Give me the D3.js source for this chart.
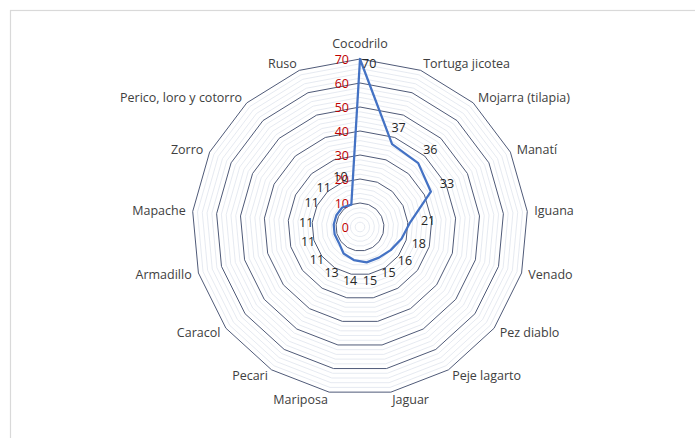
<!DOCTYPE html>
<html>
<head>
<meta charset="utf-8">
<script src="https://cdn.jsdelivr.net/npm/d3@7"></script>
<style>
  html, body { margin: 0; padding: 0; background: #fff; }
  svg { display: block; font-family: "Open Sans", "Liberation Sans", sans-serif; }
</style>
</head>
<body>
<div id="chart"></div>
<script>
// ------------------------------
// Data
// ------------------------------

const categories = [
  "Cocodrilo", "Tortuga jicotea", "Mojarra (tilapia)", "Manatí", "Iguana",
  "Venado", "Pez diablo", "Peje lagarto", "Jaguar", "Mariposa", "Pecari",
  "Caracol", "Armadillo", "Mapache", "Zorro", "Perico, loro y cotorro", "Ruso"
];
const values = [70, 37, 36, 33, 21, 18, 16, 15, 15, 14, 13, 11, 11, 11, 11, 11, 10];
const axisTicks = [0, 10, 20, 30, 40, 50, 60, 70];
const minorStep = 2;

// ------------------------------
// Layout
// ------------------------------

const width = 695;
const height = 438;
const cx = 360;
const cy = 227;
const maxRadius = 168;

const svg = d3.select("#chart").append("svg")
  .attr("width", width)
  .attr("height", height);

// Chart area border (runs off the right and bottom of the picture)
svg.append("rect")
  .attr("x", 10.5).attr("y", 10.5)
  .attr("width", width + 20).attr("height", height + 20)
  .attr("fill", "none")
  .attr("stroke", "#d9d9d9")
  .attr("stroke-width", 1.2);

const g = svg.append("g").attr("transform", `translate(${cx},${cy})`);

// Radial value scale and angle scale
const r = d3.scaleLinear().domain([0, d3.max(axisTicks)]).range([0, maxRadius]);
const angle = d3.scaleLinear().domain([0, categories.length]).range([0, 2 * Math.PI]);

const ring = (v) => d3.lineRadial()
  .angle((d, i) => angle(i))
  .radius(() => r(v))
  .curve(d3.curveLinearClosed)(categories);

// Minor gridlines
const minorTicks = d3.range(0, d3.max(axisTicks) + 0.001, minorStep)
  .filter((t) => t > 0 && !axisTicks.includes(t));
g.append("g").selectAll("path")
  .data(minorTicks)
  .join("path")
  .attr("d", (t) => ring(t))
  .attr("fill", "none")
  .attr("stroke", "#dfe4ee")
  .attr("stroke-width", 0.8);

// Major gridlines
g.append("g").selectAll("path")
  .data(axisTicks.filter((t) => t > 0))
  .join("path")
  .attr("d", (t) => ring(t))
  .attr("fill", "none")
  .attr("stroke", "#4f5a78")
  .attr("stroke-width", 1);

// Value axis labels (red, right-aligned on the vertical axis)
g.append("g").selectAll("text")
  .data(axisTicks)
  .join("text")
  .attr("x", -11)
  .attr("y", (t) => -r(t))
  .attr("text-anchor", "end")
  .attr("dominant-baseline", "central")
  .attr("font-size", "12.5px")
  .attr("fill", "#c00000")
  .text((t) => t);

// Category labels
const pad = 7;
g.append("g").selectAll("text")
  .data(categories)
  .join("text")
  .each(function (d, i) {
    const a = angle(i);
    const s = Math.sin(a);
    const c = Math.cos(a);
    const anchor = Math.abs(s) < 0.05 ? "middle" : s > 0 ? "start" : "end";
    let x = (maxRadius + pad) * s;
    let y = -(maxRadius + pad) * c;
    if (anchor === "middle") y -= c * 9;
    d3.select(this)
      .attr("x", x)
      .attr("y", y)
      .attr("text-anchor", anchor);
  })
  .attr("dominant-baseline", "central")
  .attr("font-size", "12.5px")
  .attr("fill", "#404040")
  .text((d) => d);

// Series line
g.append("path")
  .datum(values)
  .attr("d", d3.lineRadial()
    .angle((d, i) => angle(i))
    .radius((d) => r(d))
    .curve(d3.curveLinearClosed))
  .attr("fill", "none")
  .attr("stroke", "#4472c4")
  .attr("stroke-width", 2.25)
  .attr("stroke-linejoin", "round");

// Data labels: pushed outward from the point, with a minimum radius
const labelRadius = (v) => Math.max(r(v) + 18, 54);
g.append("g").selectAll("text")
  .data(values)
  .join("text")
  .each(function (v, i) {
    const a = angle(i);
    const sel = d3.select(this);
    if (labelRadius(v) > maxRadius) {
      // no room outside the outer ring: put it beside the point
      sel.attr("x", r(v) * Math.sin(a) + 2)
        .attr("y", -r(v) * Math.cos(a) + 4)
        .attr("text-anchor", "start");
    } else {
      sel.attr("x", labelRadius(v) * Math.sin(a))
        .attr("y", -labelRadius(v) * Math.cos(a))
        .attr("text-anchor", "middle");
    }
  })
  .attr("dominant-baseline", "central")
  .attr("font-size", "12.5px")
  .attr("fill", "#262626")
  .text((v) => v);
</script>
</body>
</html>
